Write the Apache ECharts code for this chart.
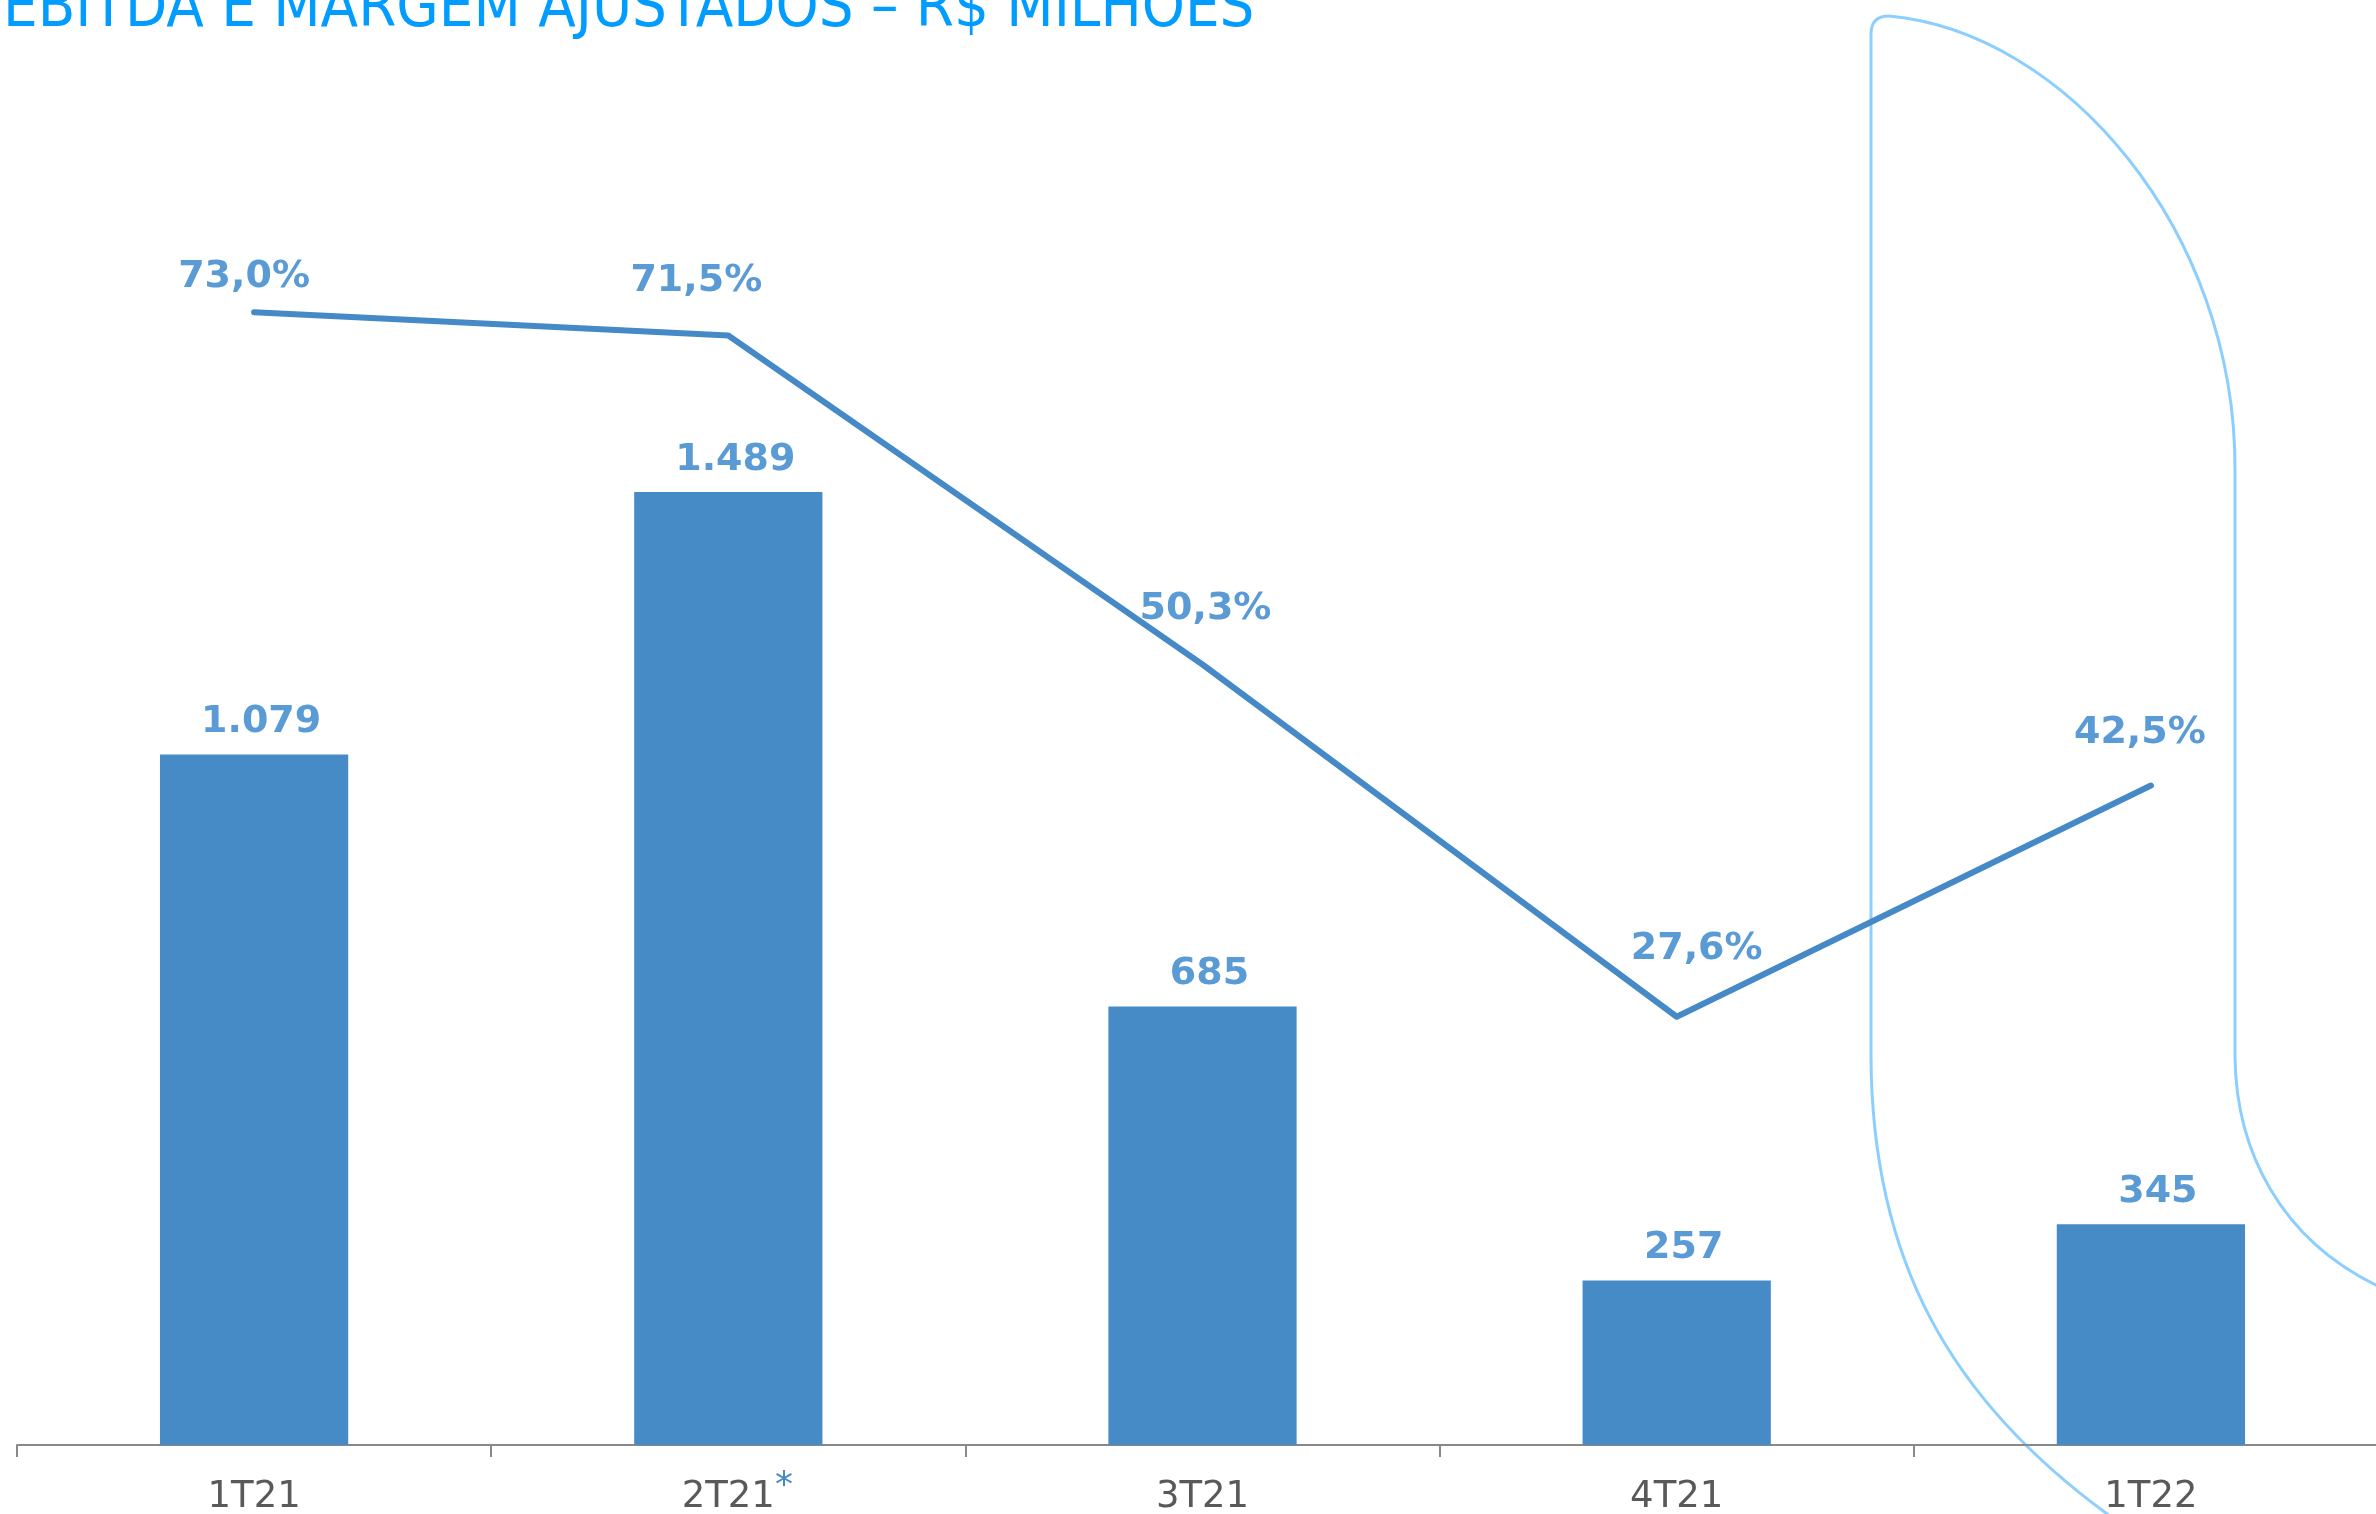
<!DOCTYPE html>
<html>
<head>
<meta charset="utf-8">
<script src="https://cdn.jsdelivr.net/npm/echarts@6/dist/echarts.min.js"></script>
<style>
  html, body { margin: 0; padding: 0; background: #ffffff; overflow: hidden; }
  #chart { width: 2376px; height: 1514px; }
</style>
</head>
<body>
<div id="chart"></div>
<script>
// ---- data ----
const categories = ['1T21', '2T21*', '3T21', '4T21', '1T22'];
const ebitda = [1079, 1489, 685, 257, 345];          // R$ milhões
const margem = [73.0, 71.5, 50.3, 27.6, 42.5];       // %
const titleText = 'EBITDA E MARGEM AJUSTADOS – R$ MILHÕES';

// ---- styling (label nudges, not data) ----
const marginLabelOffsets = [[-10, -16], [-32, -35], [3, -36], [20, -48], [-11, -33]];

function fmtThousands(v) {
  return String(v).replace(/\B(?=(\d{3})+(?!\d))/g, '.');
}
function fmtPct(v) {
  return v.toFixed(1).replace('.', ',') + '%';
}

const decoStyle = { fill: null, stroke: '#8ccfff', lineWidth: 3 };
function decoLine(x1, y1, x2, y2) {
  return { type: 'line', silent: true, z: 0, shape: { x1: x1, y1: y1, x2: x2, y2: y2 }, style: decoStyle };
}
function decoCurve(x1, y1, cx1, cy1, cx2, cy2, x2, y2) {
  const shape = { x1: x1, y1: y1, x2: x2, y2: y2, cpx1: cx1, cpy1: cy1 };
  if (cx2 !== null) { shape.cpx2 = cx2; shape.cpy2 = cy2; }
  return { type: 'bezierCurve', silent: true, z: 0, shape: shape, style: decoStyle };
}

const chart = echarts.init(document.getElementById('chart'), null, { renderer: 'canvas' });

const labelFont = '"DejaVu Sans", Verdana, sans-serif';

const option = {
  backgroundColor: '#ffffff',
  animation: false,
  title: {
    text: titleText,
    left: -2,
    top: -25,
    textStyle: {
      fontFamily: '"DejaVu Sans Condensed", "DejaVu Sans", sans-serif',
      fontSize: 61,
      fontWeight: 'normal',
      color: '#009cff'
    }
  },
  graphic: [
    decoLine(1871, 1057, 1871, 34),
    decoCurve(1871, 34, 1871, 16, null, null, 1889, 16),
    decoCurve(1889, 16, 2065, 32, 2236, 230, 2235, 470),
    decoLine(2235, 470, 2235, 1057),
    decoCurve(2235, 1057, 2236, 1150, 2280, 1240, 2380, 1287),
    decoCurve(1871, 1057, 1872, 1260, 1950, 1400, 2110, 1516)
  ],
  grid: { left: 17, right: -12, top: 5, bottom: 69, containLabel: false, outerBoundsMode: 'none' },
  xAxis: {
    type: 'category',
    data: categories,
    boundaryGap: true,
    axisLine: { show: true, lineStyle: { color: '#898989', width: 2 } },
    axisTick: { show: true, length: 12, lineStyle: { color: '#898989', width: 2 } },
    axisLabel: {
      margin: 30,
      interval: 0,
      formatter: function (v) {
        if (v.indexOf('*') >= 0) {
          return '{b|' + v.replace('*', '') + '}{s|*}';
        }
        return '{a|' + v + '}';
      },
      rich: {
        a: { fontFamily: labelFont, fontSize: 37, lineHeight: 44, color: '#595959' },
        b: { fontFamily: labelFont, fontSize: 37, lineHeight: 44, color: '#595959', padding: [0, 0, 0, 18] },
        s: { fontFamily: labelFont, fontSize: 36, height: 24, lineHeight: 24, verticalAlign: 'top', color: '#4589c6' }
      }
    }
  },
  yAxis: [
    { type: 'value', min: 0, max: 2250, show: false, splitLine: { show: false } },
    { type: 'value', min: 0, max: 92.8, show: false, splitLine: { show: false } }
  ],
  series: [
    {
      type: 'bar',
      name: 'EBITDA',
      data: ebitda,
      yAxisIndex: 0,
      barWidth: '39.7%',
      itemStyle: { color: '#478bc6' },
      z: 2,
      label: {
        show: true,
        position: 'top',
        distance: 13,
        offset: [7, 0],
        formatter: function (p) { return fmtThousands(p.value); },
        fontFamily: labelFont,
        fontWeight: 'bold',
        fontSize: 38,
        color: '#5b9bd5'
      }
    },
    {
      type: 'line',
      name: 'Margem',
      data: margem.map(function (v, i) {
        return { value: v, label: { offset: marginLabelOffsets[i] } };
      }),
      yAxisIndex: 1,
      symbol: 'circle',
      symbolSize: 1,
      showSymbol: true,
      itemStyle: { color: '#4589c6' },
      z: 3,
      lineStyle: { color: '#4589c6', width: 6, cap: 'round', join: 'round' },
      label: {
        show: true,
        position: 'top',
        distance: 0,
        formatter: function (p) { return fmtPct(p.value); },
        fontFamily: labelFont,
        fontWeight: 'bold',
        fontSize: 38,
        color: '#5b9bd5'
      }
    }
  ]
};

chart.setOption(option);
</script>
</body>
</html>
